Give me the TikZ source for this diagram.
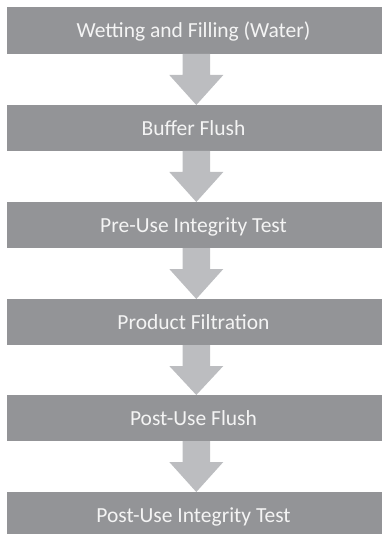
\documentclass[tikz,border=0pt]{standalone}
\usepackage{fontspec}
\setmainfont{Carlito}
\definecolor{boxgray}{HTML}{939497}
\definecolor{arrowgray}{HTML}{BCBDC0}
\definecolor{txtwhite}{HTML}{F4F4F4}
\tikzset{
  stepbox/.style={fill=boxgray, draw=none},
  steptext/.style={text=txtwhite, font=\fontsize{21.5}{24}\selectfont, anchor=base, inner sep=0pt},
  flowarrow/.style={fill=arrowgray, draw=none}
}
\begin{document}
\begin{tikzpicture}[x=1pt,y=-1pt]
\useasboundingbox (0,0) rectangle (382,534);
\def\tops{7/54/Wetting and Filling (Water)/a,105/151/Buffer Flush/b,202/248/Pre-Use Integrity Test/c,299/345/Product Filtration/d,395/441/Post-Use Flush/e,492/538/Post-Use Integrity Test/f}
\foreach \t/\b/\lbl/\nm in \tops {
  \fill[stepbox] (7,\t) rectangle (382,\b);
  \node[steptext] (\nm) at (193.5,{(\t+\b)/2+7.5}) {\lbl};
  \coordinate (\nm-top) at (196.3,\t);
  \coordinate (\nm-bot) at (196.3,\b);
}
\foreach \u/\v in {a/b,b/c,c/d,d/e,e/f} {
  \fill[flowarrow] ([xshift=-13.7pt]\u-bot) -- ([xshift=13.7pt]\u-bot)
    -- ([xshift=13.7pt,yshift=-21pt]\u-bot) -- ([xshift=27pt,yshift=-21pt]\u-bot)
    -- (\v-top) -- ([xshift=-27pt,yshift=-21pt]\u-bot)
    -- ([xshift=-13.7pt,yshift=-21pt]\u-bot) -- cycle;
}
\end{tikzpicture}
\end{document}
